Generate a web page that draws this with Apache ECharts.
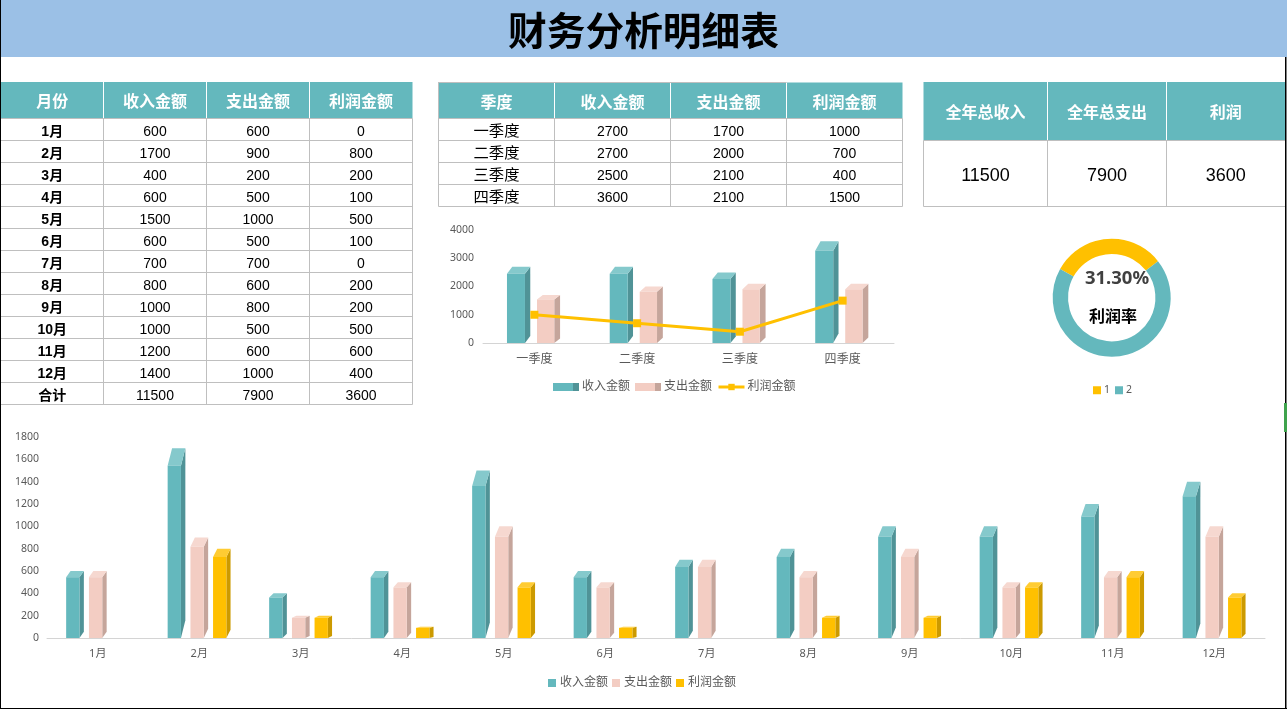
<!DOCTYPE html>
<html>
<head>
<meta charset="utf-8">
<script src="https://cdn.jsdelivr.net/npm/echarts@6/dist/echarts.min.js"></script>
<style>
html,body{margin:0;padding:0;background:#fff;overflow:hidden}
#top,#bottom{position:absolute;left:0;top:0;width:1287px;height:709px}
</style>
</head>
<body>
<div id="top"></div>
<div id="bottom"></div>
<script>
const titleText = '财务分析明细表';
const seriesNames = ['收入金额', '支出金额', '利润金额'];
const months = ['1月','2月','3月','4月','5月','6月','7月','8月','9月','10月','11月','12月'];
const monthIncome = [600,1700,400,600,1500,600,700,800,1000,1000,1200,1400];
const monthExpense = [600,900,200,500,1000,500,700,600,800,500,600,1000];
const monthProfit = [0,800,200,100,500,100,0,200,200,500,600,400];
const monthTotal = ['合计',11500,7900,3600];
const monthHeader = ['月份','收入金额','支出金额','利润金额'];
const quarters = ['一季度','二季度','三季度','四季度'];
const quarterIncome = [2700,2700,2500,3600];
const quarterExpense = [1700,2000,2100,2100];
const quarterProfit = [1000,700,400,1500];
const quarterHeader = ['季度','收入金额','支出金额','利润金额'];
const summaryHeader = ['全年总收入','全年总支出','利润'];
const summaryValues = [11500,7900,3600];
const donutNames = ['1','2'];
const donutValues = [3600,7900];
const donutPercent = '31.30%';
const donutCaption = '利润率';

const TEAL = {front:'#64B8BD', top:'#85C9CC', side:'#509397'};
const PEACH = {front:'#F3CDC3', top:'#F6D8D0', side:'#C5A59B'};
const GOLD = {front:'#FFC000', top:'#FFCC33', side:'#CC9A00'};
const CJK = '"Noto Sans CJK SC"';
const TABLE_FONT = '"Liberation Sans",' + CJK;
const CHART_FONT = '"Noto Sans",' + CJK;
const LINE = '#BFBFBF';

function bar3d(colors, off, w, d){
  return function(params, api){
    const v = api.value(1);
    if(!v) return null;
    const base = api.coord([api.value(0), 0]);
    const topPt = api.coord([api.value(0), v]);
    const h = base[1]-topPt[1];
    const dy = h*0.093;
    const xl = base[0]+off, xr = xl+w, y0 = base[1], yb = topPt[1], yf = yb+dy;
    return {type:'group', children:[
      {type:'polygon', shape:{points:[[xr,y0],[xr+d,y0-dy],[xr+d,yb],[xr,yf]]}, style:{fill:colors.side}},
      {type:'polygon', shape:{points:[[xl,yf],[xl+d,yb],[xr+d,yb],[xr,yf]]}, style:{fill:colors.top}},
      {type:'rect', shape:{x:xl,y:yf,width:w,height:y0-yf}, style:{fill:colors.front}}
    ]};
  };
}
function pairs(a){ return a.map((v,i)=>[i,v]); }
function customBar(name, values, colors, off, w, d, xi, yi){
  return {type:'custom', name, data:pairs(values), encode:{x:0,y:1}, xAxisIndex:xi||0, yAxisIndex:yi||0,
    itemStyle:{color:colors.front}, renderItem:bar3d(colors,off,w,d), silent:true};
}
function gLine(x1,y1,x2,y2,c,lw){ return {type:'line', silent:true, z:5, shape:{x1,y1,x2,y2}, style:{stroke:c||LINE, lineWidth:lw||1}}; }
function gRect(x,y,w,h,c,z){ return {type:'rect', silent:true, z:z||1, shape:{x,y,width:w,height:h}, style:{fill:c}}; }
function gText(t,x,y,size,c,bold,fam){ return {type:'text', silent:true, z:10, style:{text:String(t),x,y,fill:c,fontSize:size,fontWeight:bold?'bold':'normal',fontFamily:fam||TABLE_FONT,align:'center',verticalAlign:'middle'}}; }

function table(els, xs, ys, header, rows, o){
  const hdrBottom = ys[1];
  els.push(gRect(xs[0], ys[0], xs[xs.length-1]-xs[0], hdrBottom-ys[0], '#64B8BD'));
  for(let c=0;c<header.length;c++){
    els.push(gText(header[c], (xs[c]+xs[c+1])/2, (ys[0]+ys[1])/2+2.6, 16, '#fff', true));
  }
  for(let c=1;c<xs.length-1;c++) els.push(gLine(xs[c],ys[0],xs[c],hdrBottom,'#fff'));
  for(let r=1;r<ys.length;r++) els.push(gLine(xs[0],ys[r],xs[xs.length-1],ys[r]));
  for(let c=0;c<xs.length;c++){
    if(c===0 && o.noLeft) continue;
    if(c===xs.length-1 && o.noRight) continue;
    els.push(gLine(xs[c],ys[1],xs[c],ys[ys.length-1]));
  }
  rows.forEach((row,r)=>row.forEach((cell,c)=>{
    const sz = c===0 && o.firstSize ? o.firstSize : (o.size||14);
    els.push(gText(cell,(xs[c]+xs[c+1])/2,(ys[r+1]+ys[r+2])/2+2.2,sz,'#000',c===0&&o.boldFirst));
  }));
}

const els = [];
els.push(gRect(0,0,1287,57,'#9BC0E6'));
els.push(gText(titleText,643.5,30,38.7,'#000',true,CJK));

const monthRows = months.map((m,i)=>[m,monthIncome[i],monthExpense[i],monthProfit[i]]).concat([monthTotal]);
const monthYs = [82]; for(let i=0;i<=monthRows.length;i++) monthYs.push(118.5+22*i);
table(els,[1,103.5,206.5,309.5,412.5],monthYs,monthHeader,monthRows,{boldFirst:true,noLeft:true});

const quarterRows = quarters.map((q,i)=>[q,quarterIncome[i],quarterExpense[i],quarterProfit[i]]);
const qYs = [82.5]; for(let i=0;i<=quarterRows.length;i++) qYs.push(118.5+22*i);
table(els,[438.5,554.5,670.5,786.5,902.5],qYs,quarterHeader,quarterRows,{firstSize:15.3});
els.push(gLine(438.5,82.5,786.5,82.5)); els.push(gLine(438.5,82,438.5,119));

table(els,[923.5,1047.5,1166.5,1285],[82,140.5,206.5],summaryHeader,[summaryValues],{size:18,noRight:true});

els.push(gText(donutPercent,1117,278.5,18.5,'#404040',true,'"Noto Sans"'));
els.push(gText(donutCaption,1113,315.5,16,'#000',true,CJK));

els.push(gRect(0,0,1,709,'#000',20));
els.push(gRect(1285,57,1.5,652,'#000',20));
els.push(gRect(0,708,1287,1,'#000',20));
els.push(gRect(1284,403,3,29,'#3FA34D',21));

const grad = (a,b,s)=>new echarts.graphic.LinearGradient(0,0,1,0,[{offset:0,color:a},{offset:s,color:a},{offset:s,color:b},{offset:1,color:b}]);
const plainNumber = v => String(v);

const topChart = echarts.init(document.getElementById('top'),null,{renderer:'canvas'});
topChart.setOption({
  animation:false,
  backgroundColor:'#fff',
  graphic:els,
  grid:[{left:483,top:230,width:411,height:113,containLabel:false}],
  xAxis:[{type:'category',data:quarters,gridIndex:0,axisTick:{show:false},
    axisLine:{lineStyle:{color:'#D4D4D4'}},axisLabel:{color:'#595959',fontSize:12,fontFamily:CHART_FONT,margin:11}}],
  yAxis:[{type:'value',gridIndex:0,min:0,max:4000,interval:1000,splitLine:{show:false},axisLine:{show:false},axisTick:{show:false},
    axisLabel:{color:'#595959',fontSize:10.5,fontFamily:CHART_FONT,margin:9,padding:[4,0,0,0],formatter:plainNumber}}],
  legend:[
    {left:553,top:381,padding:0,itemGap:5,itemWidth:26,itemHeight:8,
     lineStyle:{width:3},
     textStyle:{color:'#595959',fontSize:12,fontFamily:CHART_FONT,padding:[0,0,0,-2]},
     selectedMode:false,
     data:[
       {name:seriesNames[0],icon:'rect',itemStyle:{color:grad(TEAL.front,TEAL.side,0.75)}},
       {name:seriesNames[1],icon:'rect',itemStyle:{color:grad(PEACH.front,PEACH.side,0.75)}},
       {name:seriesNames[2]}
     ]},
    {left:1093,top:385,padding:0,itemGap:5,itemWidth:8,itemHeight:8,selectedMode:false,
     textStyle:{color:'#595959',fontSize:10.5,fontFamily:CHART_FONT,padding:[0,0,0,-2]},
     data:donutNames.map(n=>({name:n,icon:'rect'}))}
  ],
  series:[
    customBar(seriesNames[0],quarterIncome,TEAL,-27.4,18,5.3),
    customBar(seriesNames[1],quarterExpense,PEACH,2.6,17.3,5.8),
    {type:'line',name:seriesNames[2],data:quarterProfit,z:6,silent:true,
     symbol:'rect',symbolSize:8,showSymbol:true,
     lineStyle:{color:GOLD.front,width:3},itemStyle:{color:GOLD.front}},
    {type:'pie',name:'利润率',center:[1111.7,297.7],radius:[43.7,59],startAngle:151,silent:true,
     label:{show:false},labelLine:{show:false},
     data:donutNames.map((n,i)=>({name:n,value:donutValues[i],itemStyle:{color:i===0?GOLD.front:TEAL.front}}))}
  ]
});

const bottomChart = echarts.init(document.getElementById('bottom'),null,{renderer:'canvas'});
bottomChart.setOption({
  animation:false,
  grid:{left:47,top:437,width:1218,height:201},
  xAxis:{type:'category',data:months,axisTick:{show:false},axisLine:{lineStyle:{color:'#D4D4D4'}},
    axisLabel:{color:'#595959',fontSize:11,fontFamily:CHART_FONT,margin:10}},
  yAxis:{type:'value',min:0,max:1800,interval:200,splitLine:{show:false},axisLine:{show:false},axisTick:{show:false},
    axisLabel:{color:'#595959',fontSize:10.5,fontFamily:CHART_FONT,margin:8,padding:[4,0,0,0],formatter:plainNumber}},
  legend:{left:548,top:677,padding:0,itemGap:4,itemWidth:8,itemHeight:8,icon:'rect',selectedMode:false,
    textStyle:{color:'#595959',fontSize:12,fontFamily:CHART_FONT,padding:[0,0,0,-1]},data:seriesNames},
  series:[
    customBar(seriesNames[0],monthIncome,TEAL,-31.6,13.3,4.4),
    customBar(seriesNames[1],monthExpense,PEACH,-8.8,13.3,4.4),
    customBar(seriesNames[2],monthProfit,GOLD,13.8,13.3,4.2)
  ]
});
</script>
</body>
</html>
